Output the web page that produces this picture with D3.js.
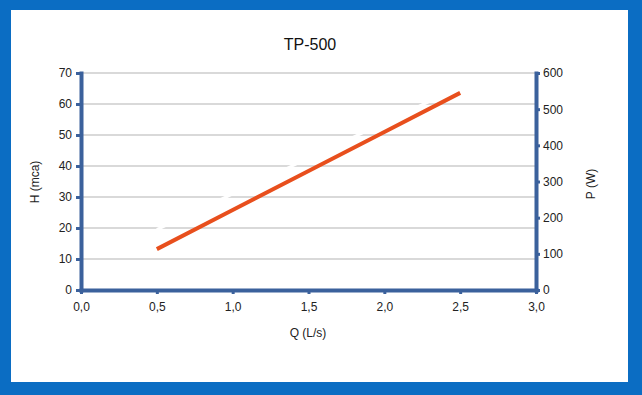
<!DOCTYPE html>
<html>
<head>
<meta charset="utf-8">
<script src="https://cdn.jsdelivr.net/npm/d3@7"></script>
<style>
  html, body { margin: 0; padding: 0; background: #0b6dc3; }
  svg { display: block; font-family: "Liberation Sans", Arial, sans-serif; }
</style>
</head>
<body>
<div id="chart"></div>
<script>
// data
const qValues = [0.5, 1.0, 1.5, 2.0, 2.5];           // Q (L/s)
const hValues = [19.5, 31, 42.5, 54, 65.5];           // H (mca), drawn in white
const pValues = [113, 221, 329, 437, 545];            // P (W), orange
const xTicks = [0, 0.5, 1.0, 1.5, 2.0, 2.5, 3.0];
const hTicks = [0, 10, 20, 30, 40, 50, 60, 70];
const pTicks = [0, 100, 200, 300, 400, 500, 600];

const width = 642, height = 395;
const axisColor = "#3b619c";
const fmt = d => d.toFixed(1).replace(".", ",");

const svg = d3.select("#chart").append("svg")
  .attr("width", width)
  .attr("height", height);

// blue frame + white card
svg.append("rect").attr("width", width).attr("height", height).attr("fill", "#0b6dc3");
svg.append("rect")
  .attr("x", 11).attr("y", 10)
  .attr("width", 617).attr("height", 372)
  .attr("fill", "#ffffff");

const x = d3.scaleLinear().domain([0, 3]).range([81, 536]);
const yH = d3.scaleLinear().domain([0, 70]).range([290, 73]);
const yP = d3.scaleLinear().domain([0, 600]).range([290, 73]);

// grid
svg.append("g")
  .selectAll("line")
  .data(hTicks.filter(d => d > 0))
  .join("line")
  .attr("x1", x(0)).attr("x2", x(3))
  .attr("y1", d => yH(d)).attr("y2", d => yH(d))
  .attr("stroke", "#b3b3b3")
  .attr("stroke-width", 1);

// series
const lineH = d3.line().x((d, i) => x(qValues[i])).y(d => yH(d));
const lineP = d3.line().x((d, i) => x(qValues[i])).y(d => yP(d));

svg.append("path")
  .datum(hValues)
  .attr("d", lineH)
  .attr("fill", "none")
  .attr("stroke", "#ffffff")
  .attr("stroke-width", 3);

svg.append("path")
  .datum(pValues)
  .attr("d", lineP)
  .attr("fill", "none")
  .attr("stroke", "#e84f1d")
  .attr("stroke-width", 4);

// axes
function styleAxis(g) {
  g.select(".domain").attr("stroke", axisColor).attr("stroke-width", 4).attr("stroke-linecap", "square");
  g.selectAll(".tick line").attr("stroke", axisColor).attr("stroke-width", 3);
  g.selectAll(".tick text").attr("fill", "#222").attr("font-size", 12)
    .attr("font-family", "'Liberation Sans', Arial, sans-serif");
}

svg.append("g")
  .attr("transform", `translate(${x(0)},0)`)
  .call(d3.axisLeft(yH).tickValues(hTicks).tickSize(5).tickSizeOuter(0).tickPadding(4))
  .call(styleAxis);

svg.append("g")
  .attr("transform", `translate(${x(3)},0)`)
  .call(d3.axisRight(yP).tickValues(pTicks).tickSize(4).tickSizeOuter(0).tickPadding(3))
  .call(styleAxis);

svg.append("g")
  .attr("transform", `translate(0,${yH(0)})`)
  .call(d3.axisBottom(x).tickValues(xTicks).tickFormat(fmt).tickSize(4).tickSizeOuter(0).tickPadding(8))
  .call(styleAxis);

// titles
svg.append("text")
  .attr("x", 310).attr("y", 50)
  .attr("text-anchor", "middle")
  .attr("font-size", 16)
  .attr("fill", "#111")
  .text("TP-500");

svg.append("text")
  .attr("x", 308).attr("y", 337)
  .attr("text-anchor", "middle")
  .attr("font-size", 12)
  .attr("fill", "#222")
  .text("Q (L/s)");

svg.append("text")
  .attr("transform", "translate(39,182) rotate(-90)")
  .attr("text-anchor", "middle")
  .attr("font-size", 12)
  .attr("fill", "#222")
  .text("H (mca)");

svg.append("text")
  .attr("transform", "translate(595,184) rotate(-90)")
  .attr("text-anchor", "middle")
  .attr("font-size", 12)
  .attr("fill", "#222")
  .text("P (W)");
</script>
</body>
</html>
